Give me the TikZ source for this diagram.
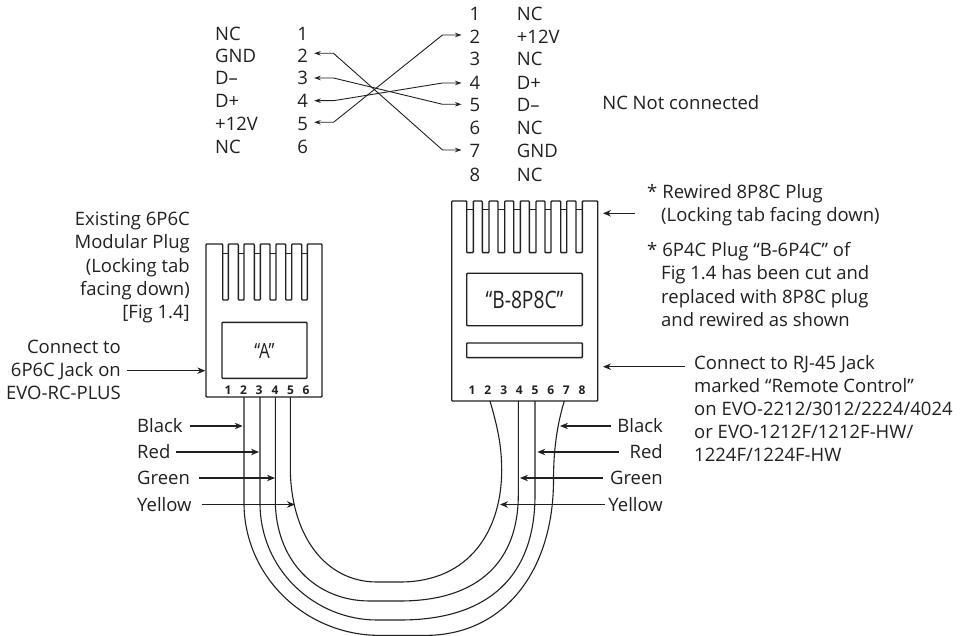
\documentclass[tikz,border=0pt]{standalone}
\usepackage{fontspec}
\setmainfont{Open Sans}
\usetikzlibrary{arrows.meta}
\definecolor{ink}{HTML}{231F20}
\tikzset{
  txt/.style={inner sep=0pt,text=ink,font=\fontsize{18.5}{23.2}\selectfont,text height=13pt,text depth=0pt},
  para/.style={inner sep=0pt,text=ink,font=\fontsize{18.5}{23.2}\selectfont},
  pinl/.style={txt,minimum width=22.6pt,align=center},
  pinr/.style={txt,minimum width=26.6pt,align=center},
  pinno/.style={inner sep=0pt,text=ink,font=\fontsize{12}{14}\selectfont\bfseries},
  cable/.style={draw=ink,line width=1.1pt},
  plug/.style={draw=ink,line width=1.4pt,line join=round},
  arr/.style={draw=ink,line width=1.1pt,-{Stealth[length=8pt,width=6.5pt]}},
  darr/.style={draw=ink,line width=0.9pt,{Stealth[length=6.5pt,width=4.5pt]}-{Stealth[length=6.5pt,width=4.5pt]}},
}
\begin{document}
\begin{tikzpicture}[x=1pt,y=-1pt]
\useasboundingbox (0,0) rectangle (966,636);
% top tables
\foreach \n/\t/\y in {1/NC/34,2/GND/56,3/D--/78,4/D+/101,5/+12V/124,6/NC/147}{
  \node[txt,anchor=west] (ln\n) at (215,\y) {\t};
  \node[pinl] (l\n) at (302.7,\y) {\n};
}
\foreach \n/\t/\y in {1/NC/14,2/+12V/37,3/NC/59,4/D+/83,5/D--/105,6/NC/128,7/GND/151,8/NC/175}{
  \node[pinr] (r\n) at (475,\y) {\n};
  \node[txt,anchor=west] (rn\n) at (516.7,\y) {\t};
}
\draw[darr] ([yshift=2.7pt]l2.east) -- ++(19.3,0) -- ([xshift=-19pt,yshift=1pt]r7.west) -- ([yshift=1pt]r7.west);
\draw[darr] (l3.east) -- ++(19.3,0) -- ([xshift=-19pt,yshift=.7pt]r5.west) -- ([yshift=.7pt]r5.west);
\draw[darr] ([yshift=.3pt]l4.east) -- ++(19.3,0) -- ([xshift=-19pt]r4.west) -- (r4.west);
\draw[darr] ([yshift=1.7pt]l5.east) -- ++(19.3,0) -- ([xshift=-19pt,yshift=2pt]r2.west) -- ([yshift=2pt]r2.west);
\node[txt,anchor=east] (ncnote) at (759.5,103) {NC Not connected};
% plug A
\draw[plug,rounded corners=0.8pt] (206,397) -- (206,244)
  \foreach \a/\b in {222.7/228.3,238.3/244,254.3/260.3,270/276,285.7/291.7,301.7/307.3}{
    -- (\a,244) -- (\a,300) -- (\b,300) -- (\b,244) } -- (322,244) -- (322,397) -- cycle;
\foreach \a/\b in {222.7/228.3,238.3/244,254.3/260.3,270/276,285.7/291.7,301.7/307.3}
  \draw[ink,line width=.8pt] (\a,253.3) -- (\b,253.3);
\node[plug,rounded corners=0.8pt,minimum width=85pt,minimum height=56pt,inner sep=0pt] (boxA) at (264.5,350.3) {};
\node[text=ink,inner sep=0pt,font=\fontsize{21}{24}\selectfont,xscale=.8] (nameA) at (264.5,351) {“A”};
\foreach \n/\x in {1/228,2/243.5,3/259,4/275,5/290.5,6/306}
  \node[pinno] (a\n) at (\x,390) {\n};
% plug B
\draw[plug,rounded corners=0.8pt] (451.7,401) -- (451.7,201)
  \foreach \a/\b in {466.7/473.3,482.3/489,498/504.7,513.7/520.3,529.3/536,545/551,560.7/566.7,576/582.3}{
    -- (\a,201) -- (\a,252.7) -- (\b,252.7) -- (\b,201) } -- (597.7,201) -- (597.7,401) -- cycle;
\foreach \a/\b in {466.7/473.3,482.3/489,498/504.7,513.7/520.3,529.3/536,545/551,560.7/566.7,576/582.3}
  \draw[ink,line width=.8pt] (\a,209.3) -- (\b,209.3);
\node[plug,rounded corners=0.8pt,minimum width=115.6pt,minimum height=52.4pt,inner sep=0pt] (boxB) at (524.5,299.5) {};
\node[text=ink,inner sep=0pt,font=\fontsize{24}{26}\selectfont,xscale=.8] (nameB) at (524.5,300) {“B-8P8C”};
\node[plug,rounded corners=0.8pt,minimum width=115.6pt,minimum height=14.7pt,inner sep=0pt] (strip) at (524.5,350.3) {};
\foreach \n/\x in {1/472,2/487.7,3/503.7,4/519.3,5/535,6/550.7,7/566.3,8/582}
  \node[pinno] (b\n) at (\x,390) {\n};
% cables
\coordinate (w1a) at (244,397); \coordinate (w2a) at (260,397);
\coordinate (w3a) at (275.3,397); \coordinate (w4a) at (290.3,397);
\coordinate (w1b) at (564.3,401); \coordinate (w2b) at (535,401);
\coordinate (w3b) at (518.3,401); \coordinate (w4b) at (490,401);
\draw[cable] (w1a) -- (244,503) .. controls (244,576) and (305,635.4) .. (380,635.4) -- (425,635.4)
  .. controls (505,635.4) and (553.5,570) .. (553.5,480) .. controls (553.5,450) and (557,425) .. (w1b);
\draw[cable] (w2a) -- (260,503) .. controls (260,570) and (315,620) .. (377,620) -- (400,620)
  .. controls (490,620) and (535,575) .. (535,495) -- (w2b);
\draw[cable] (w3a) -- (275.3,500) .. controls (275.3,560) and (315,601) .. (370,601) -- (400,601)
  .. controls (480,601) and (518.3,560) .. (518.3,495) -- (w3b);
\draw[cable] (w4a) -- (290.3,467) .. controls (290.3,535) and (325,582) .. (377,582) -- (400,582)
  .. controls (470,582) and (501.7,530) .. (501.7,470) .. controls (501.7,445) and (497,425) .. (w4b);
% wire labels left
\foreach \k/\t/\y/\g/\tx in {bl/Black/426/7/242.7,re/Red/452/5/259,gr/Green/478/9/275,ye/Yellow/504.5/10/295}{
  \node[txt,anchor=west] (L\k) at (137,\y) {\t};
  \coordinate (tL\k) at (\tx,\y);
  \draw[arr] ([xshift=\g pt]L\k.east |- tL\k) -- (tL\k);
}
% wire labels right
\foreach \k/\t/\y/\g/\tx in {bl/Black/426/6/560,re/Red/452/10/537.3,gr/Green/478/7/520,ye/Yellow/504.5/3/500}{
  \node[txt,anchor=east] (R\k) at (663,\y) {\t};
  \coordinate (tR\k) at (\tx,\y);
  \draw[arr] ([xshift=-\g pt]R\k.west |- tR\k) -- (tR\k);
}
% notes
\node[para,anchor=east,align=right] (existing) at (190,267.5) {Existing 6P6C\\Modular Plug\\(Locking tab\\facing down)\\{}[Fig 1.4]};
\node[para,anchor=east,align=right] (connA) at (121,370) {Connect to\\6P6C Jack on\\EVO-RC-PLUS};
\coordinate (tA) at (205.3,370.7);
\coordinate (sA) at (127,370.7);
\draw[arr] (sA) -- (tA);
\node[para,anchor=west,align=left] (rew) at (647,205.5) {*\hspace{5pt}Rewired 8P8C Plug\\\hspace*{14pt}(Locking tab facing down)};
\node[para,anchor=west,align=left] (p6) at (647,284.5) {*\hspace{5pt}6P4C Plug “B-6P4C” of\\\hspace*{14pt}Fig 1.4 has been cut and\\\hspace*{14pt}replaced with 8P8C plug\\\hspace*{14pt}and rewired as shown};
\node[para,anchor=west,align=left] (rj) at (694,408.5) {Connect to RJ-45 Jack\\marked “Remote Control”\\on EVO-2212/3012/2224/4024\\or EVO-1212F/1212F-HW/\\1224F/1224F-HW};
\coordinate (tR1) at (603,213.3); \coordinate (sR1) at (635,213.3);
\coordinate (tR2) at (603,366.7); \coordinate (sR2) at (685,366.7);
\draw[arr] (sR1) -- (tR1);
\draw[arr] (sR2) -- (tR2);
\end{tikzpicture}
\end{document}
